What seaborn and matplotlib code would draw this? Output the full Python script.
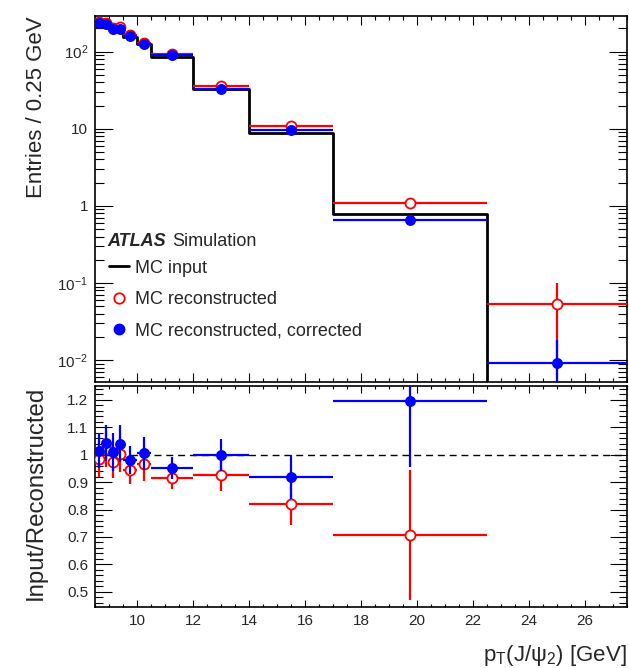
import numpy as np
import pandas as pd
import matplotlib
matplotlib.use("Agg")
import matplotlib.pyplot as plt
import seaborn as sns
from matplotlib.ticker import LogLocator, MultipleLocator, FuncFormatter, NullFormatter
from matplotlib.lines import Line2D

sns.set_style("ticks")
plt.rcParams['font.family'] = ['Liberation Sans', 'DejaVu Sans']
plt.rcParams['mathtext.fontset'] = 'custom'
plt.rcParams['mathtext.rm'] = 'Liberation Sans'
plt.rcParams['mathtext.it'] = 'Liberation Sans:italic'
plt.rcParams['mathtext.bf'] = 'Liberation Sans:bold'
plt.rcParams['axes.unicode_minus'] = False

# ---------------- data ----------------
bin_edges = [8.5, 8.75, 9.0, 9.25, 9.5, 10.0, 10.5, 12.0, 14.0, 17.0, 22.5, 27.5]
mc_input = [238, 240, 199, 207, 157, 125, 85, 33, 8.9, 0.78, 0.0]
mc_reco = [242, 236, 205, 207, 166, 130, 93, 35.6, 10.8, 1.10, 0.053]
mc_reco_err = [5, 5, 4, 4, 3, 3, 2, 1.3, 0.5, 0.06, 0.047]
mc_corr = [235, 230, 197, 199, 160, 124, 89.4, 33, 9.6, 0.65, 0.0091]
mc_corr_err = [5, 5, 4, 4, 3, 3, 2, 1.2, 0.5, 0.05, 0.009]
ratio_reco = [0.984, 1.02, 0.974, 1.003, 0.944, 0.965, 0.914, 0.927, 0.822, 0.707, np.nan]
ratio_reco_err = [0.065, 0.065, 0.06, 0.065, 0.05, 0.06, 0.04, 0.06, 0.08, 0.236, np.nan]
ratio_corr = [1.015, 1.043, 1.009, 1.04, 0.981, 1.005, 0.951, 1.0, 0.92, 1.196, np.nan]
ratio_corr_err = [0.062, 0.065, 0.07, 0.068, 0.05, 0.06, 0.04, 0.058, 0.08, 0.24, np.nan]

edges = np.array(bin_edges)
centers = 0.5 * (edges[:-1] + edges[1:])
halfw = 0.5 * (edges[1:] - edges[:-1])

RED = '#ff0000'
BLUE = '#0000ff'

fig = plt.figure(figsize=(6.29, 6.68), dpi=100)
W, H = 629.0, 668.0
x0, x1 = 95, 627
ax = fig.add_axes([x0 / W, 1 - 382 / H, (x1 - x0) / W, (382 - 16) / H])
rax = fig.add_axes([x0 / W, 1 - 607 / H, (x1 - x0) / W, (607 - 386) / H])

# ---------------- top panel ----------------
step_df = pd.DataFrame({'x': edges, 'y': list(mc_input) + [mc_input[-1]]})
sns.lineplot(data=step_df, x='x', y='y', drawstyle='steps-post', color='black',
             lw=2, estimator=None, sort=False, ax=ax, zorder=2)
ax.errorbar(centers, mc_reco, xerr=halfw, yerr=mc_reco_err, fmt='none',
            ecolor=RED, elinewidth=1.6, capsize=0, zorder=3)
sns.scatterplot(x=centers, y=mc_reco, marker='o', s=52, color='white',
                edgecolor=RED, linewidth=1.3, ax=ax, zorder=4)
ax.errorbar(centers, mc_corr, xerr=halfw, yerr=mc_corr_err, fmt='none',
            ecolor=BLUE, elinewidth=1.6, capsize=0, zorder=5)
sns.scatterplot(x=centers, y=mc_corr, marker='o', s=62, color=BLUE,
                edgecolor=BLUE, linewidth=0, ax=ax, zorder=6)

ax.set_yscale('log')
ax.set_xlim(8.5, 27.5)
ax.set_ylim(0.0052, 290)

def logfmt(v, pos):
    e = int(round(np.log10(v)))
    if e == 0:
        return '1'
    if e == 1:
        return '10'
    return r'$10^{%d}$' % e

ax.yaxis.set_major_locator(LogLocator(base=10, numticks=10))
ax.yaxis.set_minor_locator(LogLocator(base=10, subs=np.arange(2, 10), numticks=20))
ax.yaxis.set_major_formatter(FuncFormatter(logfmt))
ax.yaxis.set_minor_formatter(NullFormatter())
ax.xaxis.set_major_locator(MultipleLocator(2))
ax.xaxis.set_minor_locator(MultipleLocator(0.5))
ax.tick_params(axis='x', labelbottom=False)
ax.tick_params(axis='both', which='both', direction='in', top=True, right=True,
               width=0.8, color='black')
ax.tick_params(axis='x', which='major', length=6.5)
ax.tick_params(axis='x', which='minor', length=3.2)
ax.tick_params(axis='y', which='major', length=13, labelsize=11, pad=5)
ax.tick_params(axis='y', which='minor', length=6.5)
ax.set_xlabel('')
ax.set_ylabel('Entries / 0.25 GeV', fontsize=16, loc='top')
ax.yaxis.set_label_coords(-0.09, 1.0)

# legend + ATLAS label
atl = ax.text(0.024, 0.385, 'ATLAS', transform=ax.transAxes, fontsize=13,
              fontweight='bold', fontstyle='italic', va='center', ha='left')
ax.annotate('Simulation', xy=(1, 0.5), xycoords=atl, xytext=(4, 0),
            textcoords='offset points', fontsize=13, va='center', ha='left')
handles = [
    Line2D([], [], color='black', lw=2),
    Line2D([], [], marker='o', ls='none', mfc='white', mec=RED, ms=7.5, mew=1.3),
    Line2D([], [], marker='o', ls='none', mfc=BLUE, mec=BLUE, ms=7.5),
]
labels = ['MC input', 'MC reconstructed', 'MC reconstructed, corrected']
ax.legend(handles, labels, loc='upper left', bbox_to_anchor=(0.026, 0.334),
          frameon=False, fontsize=13, handlelength=1.1, handletextpad=0.35,
          labelspacing=0.8, borderpad=0, borderaxespad=0)

# ---------------- ratio panel ----------------
rax.axhline(1.0, color='black', lw=1.0, ls=(0, (5, 3.5)), zorder=1)
rax.errorbar(centers, ratio_reco, xerr=halfw, yerr=ratio_reco_err, fmt='none',
             ecolor=RED, elinewidth=1.6, capsize=0, zorder=3)
sns.scatterplot(x=centers, y=ratio_reco, marker='o', s=52, color='white',
                edgecolor=RED, linewidth=1.3, ax=rax, zorder=4)
rax.errorbar(centers, ratio_corr, xerr=halfw, yerr=ratio_corr_err, fmt='none',
             ecolor=BLUE, elinewidth=1.6, capsize=0, zorder=5)
sns.scatterplot(x=centers, y=ratio_corr, marker='o', s=62, color=BLUE,
                edgecolor=BLUE, linewidth=0, ax=rax, zorder=6)

rax.set_xlim(8.5, 27.5)
rax.set_ylim(0.445, 1.25)
rax.yaxis.set_major_locator(MultipleLocator(0.1))
rax.yaxis.set_minor_locator(MultipleLocator(0.02))
rax.yaxis.set_major_formatter(FuncFormatter(lambda v, p: '%g' % round(v, 2)))
rax.xaxis.set_major_locator(MultipleLocator(2))
rax.xaxis.set_minor_locator(MultipleLocator(0.5))
rax.tick_params(axis='both', which='both', direction='in', top=True, right=True,
                width=0.8, color='black')
rax.tick_params(axis='x', which='major', length=5, labelsize=11, pad=5)
rax.tick_params(axis='x', which='minor', length=2.5)
rax.tick_params(axis='y', which='major', length=12, labelsize=11, pad=5)
rax.tick_params(axis='y', which='minor', length=6)
rax.set_ylabel('Input/Reconstructed', fontsize=17.3, loc='top')
rax.yaxis.set_label_coords(-0.09, 1.0)
rax.set_xlabel(r'p$_{\mathrm{T}}$(J/ψ$_{2}$) [GeV]', fontsize=16, loc='right')
rax.xaxis.set_label_coords(1.0, -0.165)

for a in (ax, rax):
    for s in a.spines.values():
        s.set_linewidth(1.2)
        s.set_color('black')
    a.set_facecolor('white')

fig.savefig('out.png', dpi=100, facecolor='white')
